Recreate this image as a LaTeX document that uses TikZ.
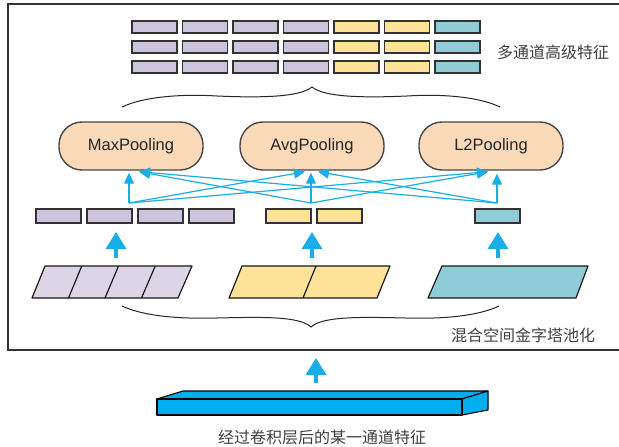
\documentclass[tikz,border=0pt]{standalone}
\usepackage{fontspec}
\setmainfont{Liberation Sans}
\newfontfamily\cjk{Noto Sans CJK SC}
\usetikzlibrary{arrows.meta,calc}
\definecolor{purp}{HTML}{CCC4DC}
\definecolor{purpl}{HTML}{DBD5E5}
\definecolor{yel}{HTML}{FDE298}
\definecolor{blu}{HTML}{90CBD8}
\definecolor{peach}{HTML}{FADAB9}
\definecolor{arr}{HTML}{1AAEE8}
\definecolor{barc}{HTML}{00AEEF}
\definecolor{edge}{HTML}{333333}
\begin{document}
\begin{tikzpicture}[x=1pt,y=-1pt,
  brick/.style={draw=edge,line width=1.4pt,minimum width=45pt,minimum height=12pt,inner sep=0pt,outer sep=0pt,anchor=north west},
  mbrick/.style={brick,minimum height=14pt},
  pool/.style={draw=edge!90,line width=1.4pt,fill=peach,rounded corners=23pt,minimum width=144pt,minimum height=48pt,inner sep=0pt,font=\fontsize{16.5}{19}\selectfont,text=black!85},
  thinarrow/.style={draw=arr,line width=1.2pt,-{Triangle[width=10pt,length=11pt]}},
  thickarrow/.style={draw=arr,line width=3.5pt,-{Triangle[width=20pt,length=17pt]}},
  para/.style={draw=black!90,line width=1.2pt,line join=round},
  bracestyle/.style={draw=black!85,line width=1pt},
  cjktext/.style={font=\cjk\fontsize{16}{18}\selectfont,text=black!75,inner sep=0pt}
]
\useasboundingbox (0,0) rectangle (619,447);
% frame
\draw[edge,line width=1.5pt] (640,4) -- (8,4) -- (8,350) -- (640,350);

% top bricks
\foreach \r/\yy in {1/21,2/41,3/61}{
  \foreach \i/\c in {0/purp,1/purp,2/purp,3/purp,4/yel,5/yel,6/blu}{
    \node[brick,fill=\c] (t\r\i) at ({132+50.5*\i},\yy) {};
  }
}
\node[cjktext,anchor=west] (hl) at (497,52) {多通道高级特征};

% top brace
\draw[bracestyle] (122,107) .. controls (145,96) and (185,94) .. (217,96)
  .. controls (262,98) and (300,97) .. (312,87)
  .. controls (324,97) and (362,98) .. (407,96)
  .. controls (439,94) and (477,96) .. (500,107);

% pooling nodes
\node[pool] (max) at (131,146) {MaxPooling};
\node[pool] (avg) at (312,146) {AvgPooling};
\node[pool] (l2) at (491,146) {L2Pooling};

% junctions
\coordinate (j1) at (129,203);
\coordinate (j2) at (311,203);
\coordinate (j3) at (497,203);

\draw[thinarrow] (j1) -- ($(max.south)+(-2,2)$);
\draw[thinarrow] (j1) -- ($(avg.south)+(-7,1)$);
\draw[thinarrow] (j1) -- ($(l2.south)+(-3,1)$);
\draw[thinarrow] (j2) -- ($(max.south)+(8,1)$);
\draw[thinarrow] (j2) -- ($(avg.south)+(-1,2)$);
\draw[thinarrow] (j2) -- ($(l2.south)+(-3,1)$);
\draw[thinarrow] (j3) -- ($(max.south)+(8,1)$);
\draw[thinarrow] (j3) -- ($(avg.south)+(6,1)$);
\draw[thinarrow] (j3) -- ($(l2.south)+(6,3)$);

% middle bricks
\foreach \x [count=\k] in {36,87,138,189}{
  \node[mbrick,fill=purp] (mp\k) at (\x,209) {};
}
\node[mbrick,fill=yel] (my1) at (266,209) {};
\node[mbrick,fill=yel] (my2) at (317,209) {};
\node[mbrick,fill=blu] (mb1) at (475,209) {};

% thick arrows
\coordinate (pa1) at (116,258); \coordinate (ga1) at (116,232);
\coordinate (pa2) at (312,258); \coordinate (ga2) at (312,232);
\coordinate (pa3) at (498,258); \coordinate (ga3) at (498,232);
\draw[thickarrow] (pa1) -- (ga1);
\draw[thickarrow] (pa2) -- (ga2);
\draw[thickarrow] (pa3) -- (ga3);

% parallelograms
\draw[para,fill=purpl] (32,298) -- (45,266) -- (192,266) -- (178,298) -- cycle;
\draw[para] (81.75,266) -- (68.5,298);
\draw[para] (118.5,266) -- (105,298);
\draw[para] (155.25,266) -- (141.5,298);
\draw[para,fill=yel] (229,298) -- (242,266) -- (390,266) -- (377,298) -- cycle;
\draw[para] (316,266) -- (303,298);
\draw[para,fill=blu] (428,298) -- (442,266) -- (588,266) -- (576,298) -- cycle;

% bottom brace
\draw[bracestyle] (122,306) .. controls (145,317) and (185,319) .. (217,318)
  .. controls (262,317) and (299,316) .. (311,327)
  .. controls (323,316) and (362,317) .. (406,318)
  .. controls (438,319) and (476,317) .. (499,306);
\node[cjktext,anchor=west] (hs) at (451,335) {混合空间金字塔池化};

% bottom arrow
\coordinate (ba) at (316,383); \coordinate (bt) at (316,358);
\draw[thickarrow] (ba) -- (bt);

% 3D bar
\draw[black,line width=1.1pt,line join=round,fill=barc] (157,399) -- (183,391) -- (488,391) -- (462,399) -- cycle;
\draw[black,line width=1.1pt,line join=round,fill=barc] (462,399) -- (488,391) -- (488,410) -- (462,415) -- cycle;
\draw[black,line width=1.1pt,line join=round,fill=barc] (157,399) rectangle (462,415);
\node[cjktext] (hb) at (322,437) {经过卷积层后的某一通道特征};
\end{tikzpicture}
\end{document}
